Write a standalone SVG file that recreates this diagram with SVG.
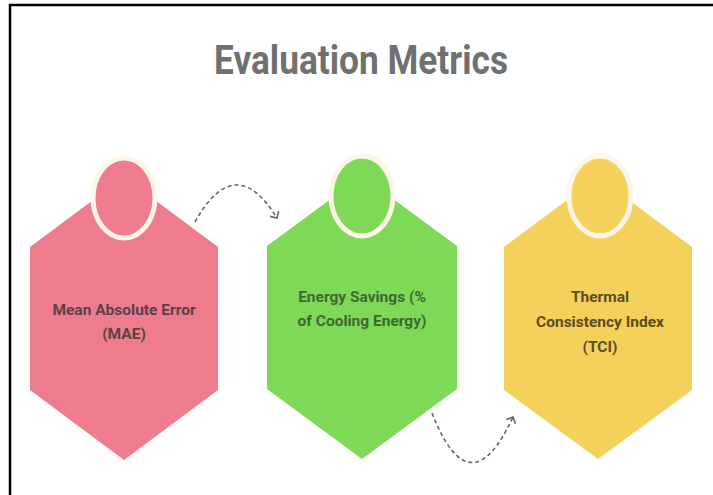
<svg xmlns="http://www.w3.org/2000/svg" width="713" height="495" viewBox="0 0 713 495">
  <style>
    .title { font-family: Roboto, "Liberation Sans", sans-serif; font-weight: 700; font-size: 40px; fill: #707070; }
    .lbl { font-family: Roboto, "Liberation Sans", sans-serif; font-weight: 700; font-size: 15.5px; text-anchor: middle; }
    .ring { stroke: #fdf6e8; stroke-width: 5; }
    .conn { fill: none; stroke: #666666; stroke-width: 1.6; stroke-dasharray: 4 3; }
  </style>
  <defs>
    <marker id="chev" markerWidth="12" markerHeight="12" refX="6" refY="6" orient="auto" markerUnits="userSpaceOnUse">
      <path d="M1,1 L6,6 L1,11" fill="none" stroke="#666666" stroke-width="1.6"/>
    </marker>
  </defs>
  <rect width="713" height="495" fill="#ffffff"/>
  <line x1="9" y1="5" x2="713" y2="5" stroke="#000" stroke-width="2.5"/>
  <line x1="10" y1="4" x2="10" y2="495" stroke="#000" stroke-width="2.5"/>
  <text class="title" x="214" y="74" textLength="294" lengthAdjust="spacingAndGlyphs">Evaluation Metrics</text>

  <g id="connectors">
    <path class="conn" d="M195,222 Q235,150 277,218" marker-end="url(#chev)"/>
    <path class="conn" d="M432,413 Q470,510 513,417" marker-end="url(#chev)"/>
  </g>

  <g id="node-mae">
    <polygon points="124,177 218,247 218,390 124,460 30,390 30,247" fill="#ee7b8e"/>
    <ellipse class="ring" cx="124" cy="198" rx="31" ry="40" fill="#ee7b8e"/>
    <text class="lbl" fill="#5b4247" x="124" y="315">Mean Absolute Error</text>
    <text class="lbl" fill="#5b4247" x="124" y="339">(MAE)</text>
  </g>

  <g id="node-energy">
    <polygon points="362,176 457,246 457,389 362,459 267,389 267,246" fill="#7ed957"/>
    <ellipse class="ring" cx="362" cy="196" rx="31" ry="40" fill="#7ed957"/>
    <text class="lbl" fill="#3d6a32" x="362" y="302">Energy Savings (%</text>
    <text class="lbl" fill="#3d6a32" x="362" y="326">of Cooling Energy)</text>
  </g>

  <g id="node-tci">
    <polygon points="598,177 692,247 692,390 598,459 504,390 504,247" fill="#f4d15a"/>
    <ellipse class="ring" cx="600" cy="196" rx="31" ry="40" fill="#f4d15a"/>
    <text class="lbl" fill="#5c4d22" x="600" y="302">Thermal</text>
    <text class="lbl" fill="#5c4d22" x="600" y="327">Consistency Index</text>
    <text class="lbl" fill="#5c4d22" x="600" y="352">(TCI)</text>
  </g>
</svg>
